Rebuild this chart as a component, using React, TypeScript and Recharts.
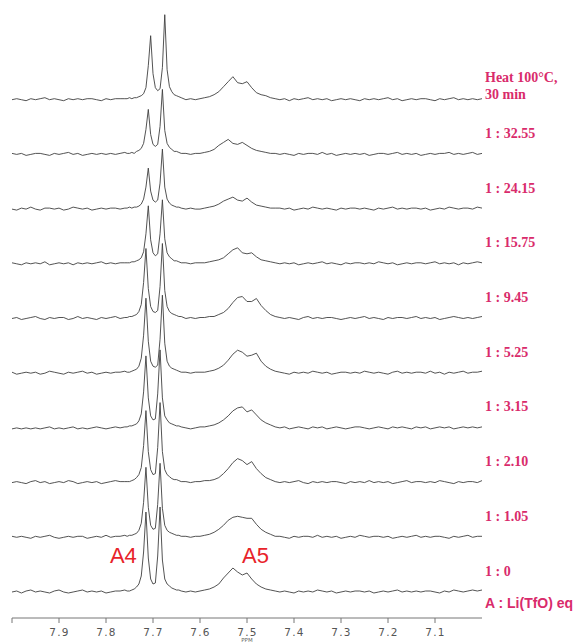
import React from "react";
import { LineChart, Line, XAxis, YAxis, ReferenceLine, ReferenceDot } from "recharts";

// chemical shift grid (ppm), left baseline / A4 region / A5 + right baseline
const ppmLeft = [8.0, 7.99, 7.98, 7.97, 7.96, 7.95, 7.94, 7.93, 7.92, 7.91, 7.9, 7.89, 7.88, 7.87, 7.86, 7.85, 7.84, 7.83, 7.82, 7.81, 7.8, 7.79, 7.78, 7.77, 7.76];
const ppmA4 = [7.755, 7.75, 7.745, 7.74, 7.735, 7.73, 7.725, 7.72, 7.715, 7.71, 7.705, 7.7, 7.695, 7.69, 7.685, 7.68, 7.675, 7.67, 7.665, 7.66, 7.655, 7.65, 7.645, 7.64];
const ppmRight = [
  7.63, 7.62, 7.61, 7.6, 7.59, 7.58, 7.57, 7.56, 7.55, 7.54,
  7.53, 7.52, 7.51, 7.5, 7.49, 7.48, 7.47, 7.46, 7.45, 7.44,
  7.43, 7.42, 7.41, 7.4, 7.39, 7.38, 7.37, 7.36, 7.35, 7.34,
  7.33, 7.32, 7.31, 7.3, 7.29, 7.28, 7.27, 7.26, 7.25, 7.24,
  7.23, 7.22, 7.21, 7.2, 7.19, 7.18, 7.17, 7.16, 7.15, 7.14,
  7.13, 7.12, 7.11, 7.1, 7.09, 7.08, 7.07, 7.06, 7.05, 7.04,
  7.03, 7.02, 7.01, 7.0,
];

// spectrum labels, top to bottom
const traceLabels = [
  ["Heat 100\u00B0C,", "30 min"],
  ["1 : 32.55"],
  ["1 : 24.15"],
  ["1 : 15.75"],
  ["1 : 9.45"],
  ["1 : 5.25"],
  ["1 : 3.15"],
  ["1 : 2.10"],
  ["1 : 1.05"],
  ["1 : 0"],
];

const axisTicks = [8.0, 7.9, 7.8, 7.7, 7.6, 7.5, 7.4, 7.3, 7.2, 7.1];

// intensities (top trace first)
const leftBaseline = [
  [0, 1, 0, -1, 1, 0, 1, 2, 0, 1, 0, -1, 1, 0, 1, 0, 1, 1, 0, -1, 1, 0, 1, 1, 1],
  [1, 0, 1, -1, 0, 1, 1, 0, -1, 1, 0, 1, 2, 0, 1, -1, 0, 1, 0, 1, 0, 1, 0, 1, 2],
  [0, -1, 1, 0, 2, 0, -1, 1, 1, 0, 1, -1, 0, 2, 1, 0, 1, -1, 0, 1, 0, 1, 1, 0, 1],
  [1, 0, -1, 1, 0, 1, 0, 2, -1, 0, 1, 0, 1, -1, 1, 0, 1, 0, 1, 2, 0, 1, 0, 1, 1],
  [0, 1, -1, 0, 1, 2, 0, -1, 1, 0, 1, 1, -1, 0, 2, 0, 1, 0, -1, 1, 0, 1, 2, 0, 1],
  [1, -1, 0, 1, 0, 1, -1, 0, 2, 1, 0, -1, 1, 0, 1, 2, 0, 1, -1, 0, 1, 0, 1, 1, 2],
  [-1, 0, -1, 0, -1, 0, -1, 0, 1, -1, 0, -1, 0, 1, -1, 0, -1, 0, 1, 0, -1, 0, 1, 0, 1],
  [0, 1, 0, -1, 1, 2, 0, 1, -1, 0, 1, 0, 2, 1, -1, 0, 1, 0, 1, -1, 0, 1, 2, 1, 1],
  [1, 0, 1, 0, -1, 1, 0, 1, 2, 0, -1, 0, 1, 0, 1, 1, -1, 0, 1, 0, 2, 0, 1, 1, 2],
  [0, 1, -1, 1, 2, 0, 1, 0, -1, 1, 2, 0, -1, 0, 1, 2, 0, 1, 0, 1, -1, 0, 1, 1, 2],
];

const a4Region = [
  [1, 2, 1, 2, 2, 3, 4, 6, 12, 34, 64, 26, 12, 9, 11, 32, 85, 30, 13, 8, 5, 4, 3, 2],
  [1, 1, 2, 1, 3, 4, 6, 11, 25, 45, 20, 10, 8, 10, 28, 65, 24, 11, 7, 5, 3, 3, 2, 1],
  [1, 2, 1, 2, 2, 3, 5, 10, 22, 41, 18, 9, 7, 9, 26, 60, 22, 10, 6, 4, 3, 2, 2, 1],
  [1, 1, 2, 2, 3, 4, 6, 12, 30, 58, 24, 11, 8, 10, 30, 64, 25, 11, 7, 5, 3, 3, 2, 1],
  [1, 2, 2, 3, 4, 7, 14, 36, 70, 30, 12, 7, 6, 8, 32, 75, 28, 12, 7, 5, 4, 3, 2, 2],
  [1, 1, 2, 3, 4, 7, 15, 38, 75, 32, 12, 7, 6, 8, 34, 78, 30, 12, 7, 5, 4, 3, 2, 1],
  [1, 2, 2, 3, 4, 7, 14, 36, 72, 30, 12, 8, 9, 34, 78, 30, 12, 8, 5, 4, 3, 2, 2, 1],
  [1, 1, 2, 3, 5, 8, 15, 37, 72, 31, 13, 8, 9, 35, 80, 31, 13, 8, 6, 4, 3, 3, 2, 1],
  [1, 2, 2, 3, 4, 7, 14, 35, 70, 30, 12, 8, 9, 33, 74, 29, 12, 7, 5, 4, 3, 2, 2, 1],
  [1, 1, 2, 3, 5, 8, 16, 40, 80, 34, 13, 8, 9, 36, 85, 32, 13, 8, 6, 4, 3, 2, 2, 1],
];

const a5AndRight = [
  [0, 1, 0, 1, 2, 3, 5, 8, 13, 18,
   23, 17, 16, 18, 12, 7, 5, 4, 2, 1,
   0, 1, -1, 1, 0, 1, 2, 0, 1, 0,
   1, -1, 0, 1, 0, 1, 0, -1, 1, 0,
   1, 0, 1, 2, 0, 1, -1, 0, 1, 0,
   1, 1, 0, -1, 1, 0, 1, 2, 0, 1,
   0, 1, 0, 1],
  [1, 0, 1, 1, 2, 3, 5, 9, 12, 15,
   11, 10, 12, 9, 6, 4, 3, 2, 1, 1,
   0, 1, 0, -1, 1, 0, 1, 1, 0, 2,
   0, 1, -1, 0, 1, 0, 1, 0, 1, -1,
   0, 1, 1, 0, 1, 2, 0, 1, 0, 1,
   -1, 0, 1, 0, 1, 1, 2, 0, 1, 0,
   1, 2, 0, 1],
  [0, 1, 0, 0, 1, 2, 3, 5, 8, 10,
   12, 9, 8, 11, 7, 4, 3, 2, 1, 1,
   1, 0, 1, -1, 0, 1, 0, 2, 1, 0,
   1, 0, -1, 1, 0, 1, 1, 0, 1, 0,
   -1, 1, 0, 1, 2, 0, 1, 0, 1, 1,
   0, 1, -1, 0, 1, 0, 2, 1, 0, 1,
   1, 0, 2, 1],
  [1, 0, 1, 1, 1, 2, 3, 4, 6, 10,
   14, 16, 11, 10, 11, 7, 4, 3, 2, 1,
   0, 1, 0, 1, -1, 0, 1, 0, 1, 2,
   0, 1, 0, -1, 1, 0, 1, 1, 0, 1,
   0, 2, 1, 0, 1, -1, 0, 1, 0, 1,
   1, 0, 1, 2, 0, 1, 0, 1, -1, 1,
   0, 1, 2, 1],
  [0, 1, 0, 1, 1, 2, 2, 4, 6, 10,
   16, 21, 22, 17, 17, 20, 13, 8, 4, 2,
   1, 0, 1, 0, -1, 1, 2, 0, 1, 0,
   1, 1, 0, -1, 0, 1, 0, 1, 2, 0,
   1, 0, -1, 1, 0, 1, 1, 0, 1, 2,
   0, 1, 0, 1, -1, 0, 1, 2, 1, 0,
   1, 0, 1, 2],
  [1, 0, 1, 1, 1, 2, 3, 5, 8, 13,
   19, 23, 21, 17, 18, 20, 12, 7, 4, 2,
   1, 0, -1, 1, 0, 1, 0, 2, 1, 0,
   1, -1, 0, 1, 1, 0, 1, 0, 2, 1,
   0, 1, 0, -1, 1, 2, 0, 1, 0, 1,
   1, 0, 2, 0, 1, -1, 1, 0, 1, 2,
   0, 1, 1, 2],
  [0, -1, 0, 1, 1, 2, 3, 5, 8, 12,
   17, 20, 21, 16, 18, 13, 8, 5, 3, 1,
   0, 1, -1, 0, 1, 0, -1, 1, 0, 1,
   -1, 0, 1, 0, -1, 0, 1, 1, 0, -1,
   0, 1, 0, -1, 1, 0, 1, 0, -1, 1,
   0, 1, -1, 0, 1, 0, 1, -1, 0, 1,
   0, 1, 0, 1],
  [1, 0, 1, 1, 2, 2, 3, 5, 9, 14,
   20, 24, 22, 18, 21, 14, 9, 5, 3, 1,
   0, 1, 0, 1, 2, 0, -1, 1, 0, 1,
   0, 1, 1, 0, -1, 1, 0, 1, 0, 2,
   0, 1, 0, 1, -1, 0, 1, 2, 0, 1,
   1, 0, 1, 0, 2, 1, 0, -1, 1, 0,
   1, 1, 0, 2],
  [1, 0, 1, 1, 2, 3, 5, 8, 12, 17,
   20, 21, 20, 19, 19, 13, 8, 5, 3, 1,
   1, 0, -1, 1, 0, 1, 1, 0, 2, 0,
   1, 0, 1, -1, 0, 1, 0, 2, 1, 0,
   1, 1, 0, 1, -1, 0, 1, 0, 1, 2,
   0, 1, 0, 1, 1, 0, -1, 1, 0, 1,
   2, 0, 1, 1],
  [0, 1, 0, 1, 2, 3, 5, 8, 14, 19,
   24, 20, 17, 19, 13, 8, 5, 3, 2, 1,
   0, 1, 0, -1, 1, 0, 1, 0, 2, 1,
   0, 1, -1, 0, 1, 0, 1, 1, 0, 1,
   -1, 0, 1, 0, 1, 2, 0, 1, 0, 1,
   0, 1, 1, 0, -1, 1, 0, 2, 1, 0,
   1, 2, 1, 2],
];

// peak annotations
const peakNames = ["A4", "A5"];
const peakPpm = [7.763, 7.482];

const STACK_BASE = 26;
const STACK_STEP = 54.7;
const Y_MAX = 618;

const ppmGrid = [...ppmLeft, ...ppmA4, ...ppmRight];
const n = traceLabels.length;
const offsets = traceLabels.map((_, i) => STACK_BASE + (n - 1 - i) * STACK_STEP);
const traces = traceLabels.map((_, i) => {
  const vals = [...leftBaseline[i], ...a4Region[i], ...a5AndRight[i]];
  return ppmGrid.map((p, k) => ({ ppm: p, v: offsets[i] + (vals[k] ?? 0) }));
});

const LABEL_COLOR = "#d92b6b";

const AxisTick = (props: any) => {
  const { x, y, payload } = props;
  const v = payload.value as number;
  if (v > 7.95) return <g />;
  return (
    <g>
      <text x={x + 0.5} y={y + 11} textAnchor="middle" fontFamily="DejaVu Sans" fontSize={10.5} letterSpacing={1.2} fill="#555">
        {v.toFixed(1)}
      </text>
      {Math.abs(v - 7.5) < 1e-6 && (
        <text x={x} y={y + 17} textAnchor="middle" fontFamily="DejaVu Sans" fontSize={5.5} fill="#666">
          PPM
        </text>
      )}
    </g>
  );
};

export default function App() {
  return (
    <div style={{ position: "absolute", left: 0, top: 0, width: 584, height: 642, background: "#fff" }}>
      <LineChart width={584} height={642} margin={{ top: 0, right: 102, bottom: 0, left: 12 }}>
        <XAxis
          type="number"
          dataKey="ppm"
          domain={[7.0, 8.0]}
          reversed
          allowDataOverflow
          ticks={axisTicks}
          interval={0}
          height={24}
          tickSize={5}
          stroke="#777"
          tick={<AxisTick />}
        />
        <YAxis type="number" domain={[0, Y_MAX]} allowDataOverflow hide />
        {traces.map((d, i) => (
          <Line
            key={i}
            data={d}
            dataKey="v"
            type="linear"
            stroke="#404040"
            strokeWidth={0.9}
            dot={false}
            activeDot={false}
            isAnimationActive={false}
          />
        ))}
        {traceLabels.map((lines, i) => (
          <ReferenceLine
            key={"l" + i}
            y={offsets[i] + (lines.length > 1 ? 6 : 21)}
            stroke="none"
            label={(p: any) => {
              const vb = p.viewBox;
              return (
                <text
                  x={vb.x + vb.width + 3}
                  y={vb.y}
                  fontFamily="Liberation Serif"
                  fontWeight="bold"
                  fontSize={14}
                  fill={LABEL_COLOR}
                  dominantBaseline="central"
                >
                  {lines.length > 1 ? (
                    <>
                      <tspan x={vb.x + vb.width + 3} dy={-17}>{lines[0]}</tspan>
                      <tspan x={vb.x + vb.width + 3} dy={17}>{lines[1]}</tspan>
                    </>
                  ) : (
                    lines[0]
                  )}
                </text>
              );
            }}
          />
        ))}
        <ReferenceLine
          y={offsets[n - 1] - 11}
          stroke="none"
          label={(p: any) => {
            const vb = p.viewBox;
            return (
              <text
                x={vb.x + vb.width + 3}
                y={vb.y}
                fontFamily="Liberation Sans"
                fontWeight="bold"
                fontSize={14}
                fill={LABEL_COLOR}
                dominantBaseline="central"
              >
                A : Li(TfO)  eq
              </text>
            );
          }}
        />
        {peakNames.map((name, i) => (
          <ReferenceDot
            key={name}
            x={peakPpm[i]}
            y={offsets[n - 1] + 29}
            r={1}
            fill="none"
            stroke="none"
            label={(p: any) => {
              const vb = p.viewBox;
              return (
                <text
                  x={vb.x + vb.width / 2}
                  y={vb.y + vb.height / 2}
                  textAnchor="middle"
                  fontFamily="Liberation Sans"
                  fontSize={22}
                  fill="#e8232a"
                >
                  {name}
                </text>
              );
            }}
          />
        ))}
      </LineChart>
    </div>
  );
}
